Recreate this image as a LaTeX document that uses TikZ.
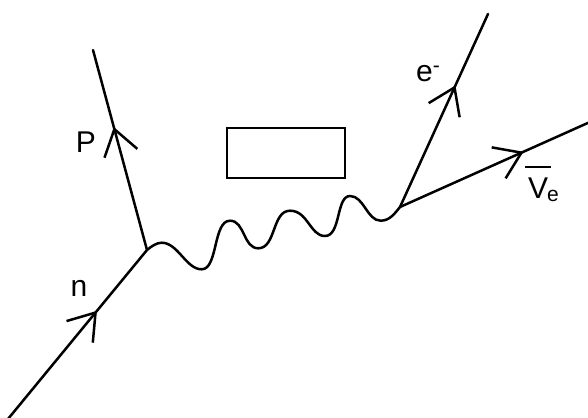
\documentclass[tikz,border=0pt]{standalone}
\usepackage{fontspec}
\setmainfont{Liberation Sans}
\usetikzlibrary{arrows.meta,decorations.markings}
\tikzset{
  fline/.style={line width=2.5pt, line cap=round},
  midarrow/.style={postaction={decorate, decoration={markings,
     mark=at position #1 with {\arrow{Straight Barb[length=25pt,width=34pt,line width=2.5pt]}}}}},
  lbl/.style={font=\fontsize{30}{34}\selectfont, inner sep=0pt},
  boxstyle/.style={draw, line width=2.6pt, minimum width=118pt, minimum height=50pt, inner sep=0pt}
}
\begin{document}
\begin{tikzpicture}[x=1pt,y=-1pt]
\useasboundingbox (0,0) rectangle (588,417);
\coordinate (nstart) at (8,419);
\coordinate (v1) at (147,250);
\coordinate (ptop) at (93,50);
\coordinate (v2) at (400,207);
\coordinate (etop) at (488,14);
\coordinate (nuend) at (590,122);
\draw[fline, midarrow=0.64] (nstart) -- (v1);
\draw[fline, midarrow=0.615] (v1) -- (ptop);
\draw[fline, midarrow=0.63] (v2) -- (etop);
\draw[fline, midarrow=0.65] (v2) -- (nuend);
\draw[fline]
  (v1) .. controls (152,246) and (156,243) .. (161.7,242.7)
  .. controls (178,242.7) and (186,269.3) .. (201.7,269.3)
  .. controls (218,269.3) and (213,220.7) .. (230,220.7)
  .. controls (245,220.7) and (243,248.3) .. (258.3,248.3)
  .. controls (276,248.3) and (272,210.7) .. (290,210.7)
  .. controls (308,210.7) and (310,236) .. (325,236)
  .. controls (341,236) and (336,196) .. (350,196)
  .. controls (364,196) and (367,220.7) .. (380.7,220.7)
  .. controls (390,220.7) and (395,213) .. (v2);
\node[boxstyle] (box) at (286,153) {};
\node[lbl] (lp) at (86,142) {P};
\node[lbl] (ln) at (79,288) {n};
\node[lbl, anchor=base west] (le) at (416,82) {e\textsuperscript{-}};
\node[lbl, anchor=base west] (lnu) at (528,198)
  {\makebox[0pt][l]{\kern-3pt\raisebox{30pt}{\rule{26pt}{2.3pt}}}V\kern-1pt\raisebox{-3pt}{\fontsize{21}{21}\selectfont e}};
\end{tikzpicture}
\end{document}
